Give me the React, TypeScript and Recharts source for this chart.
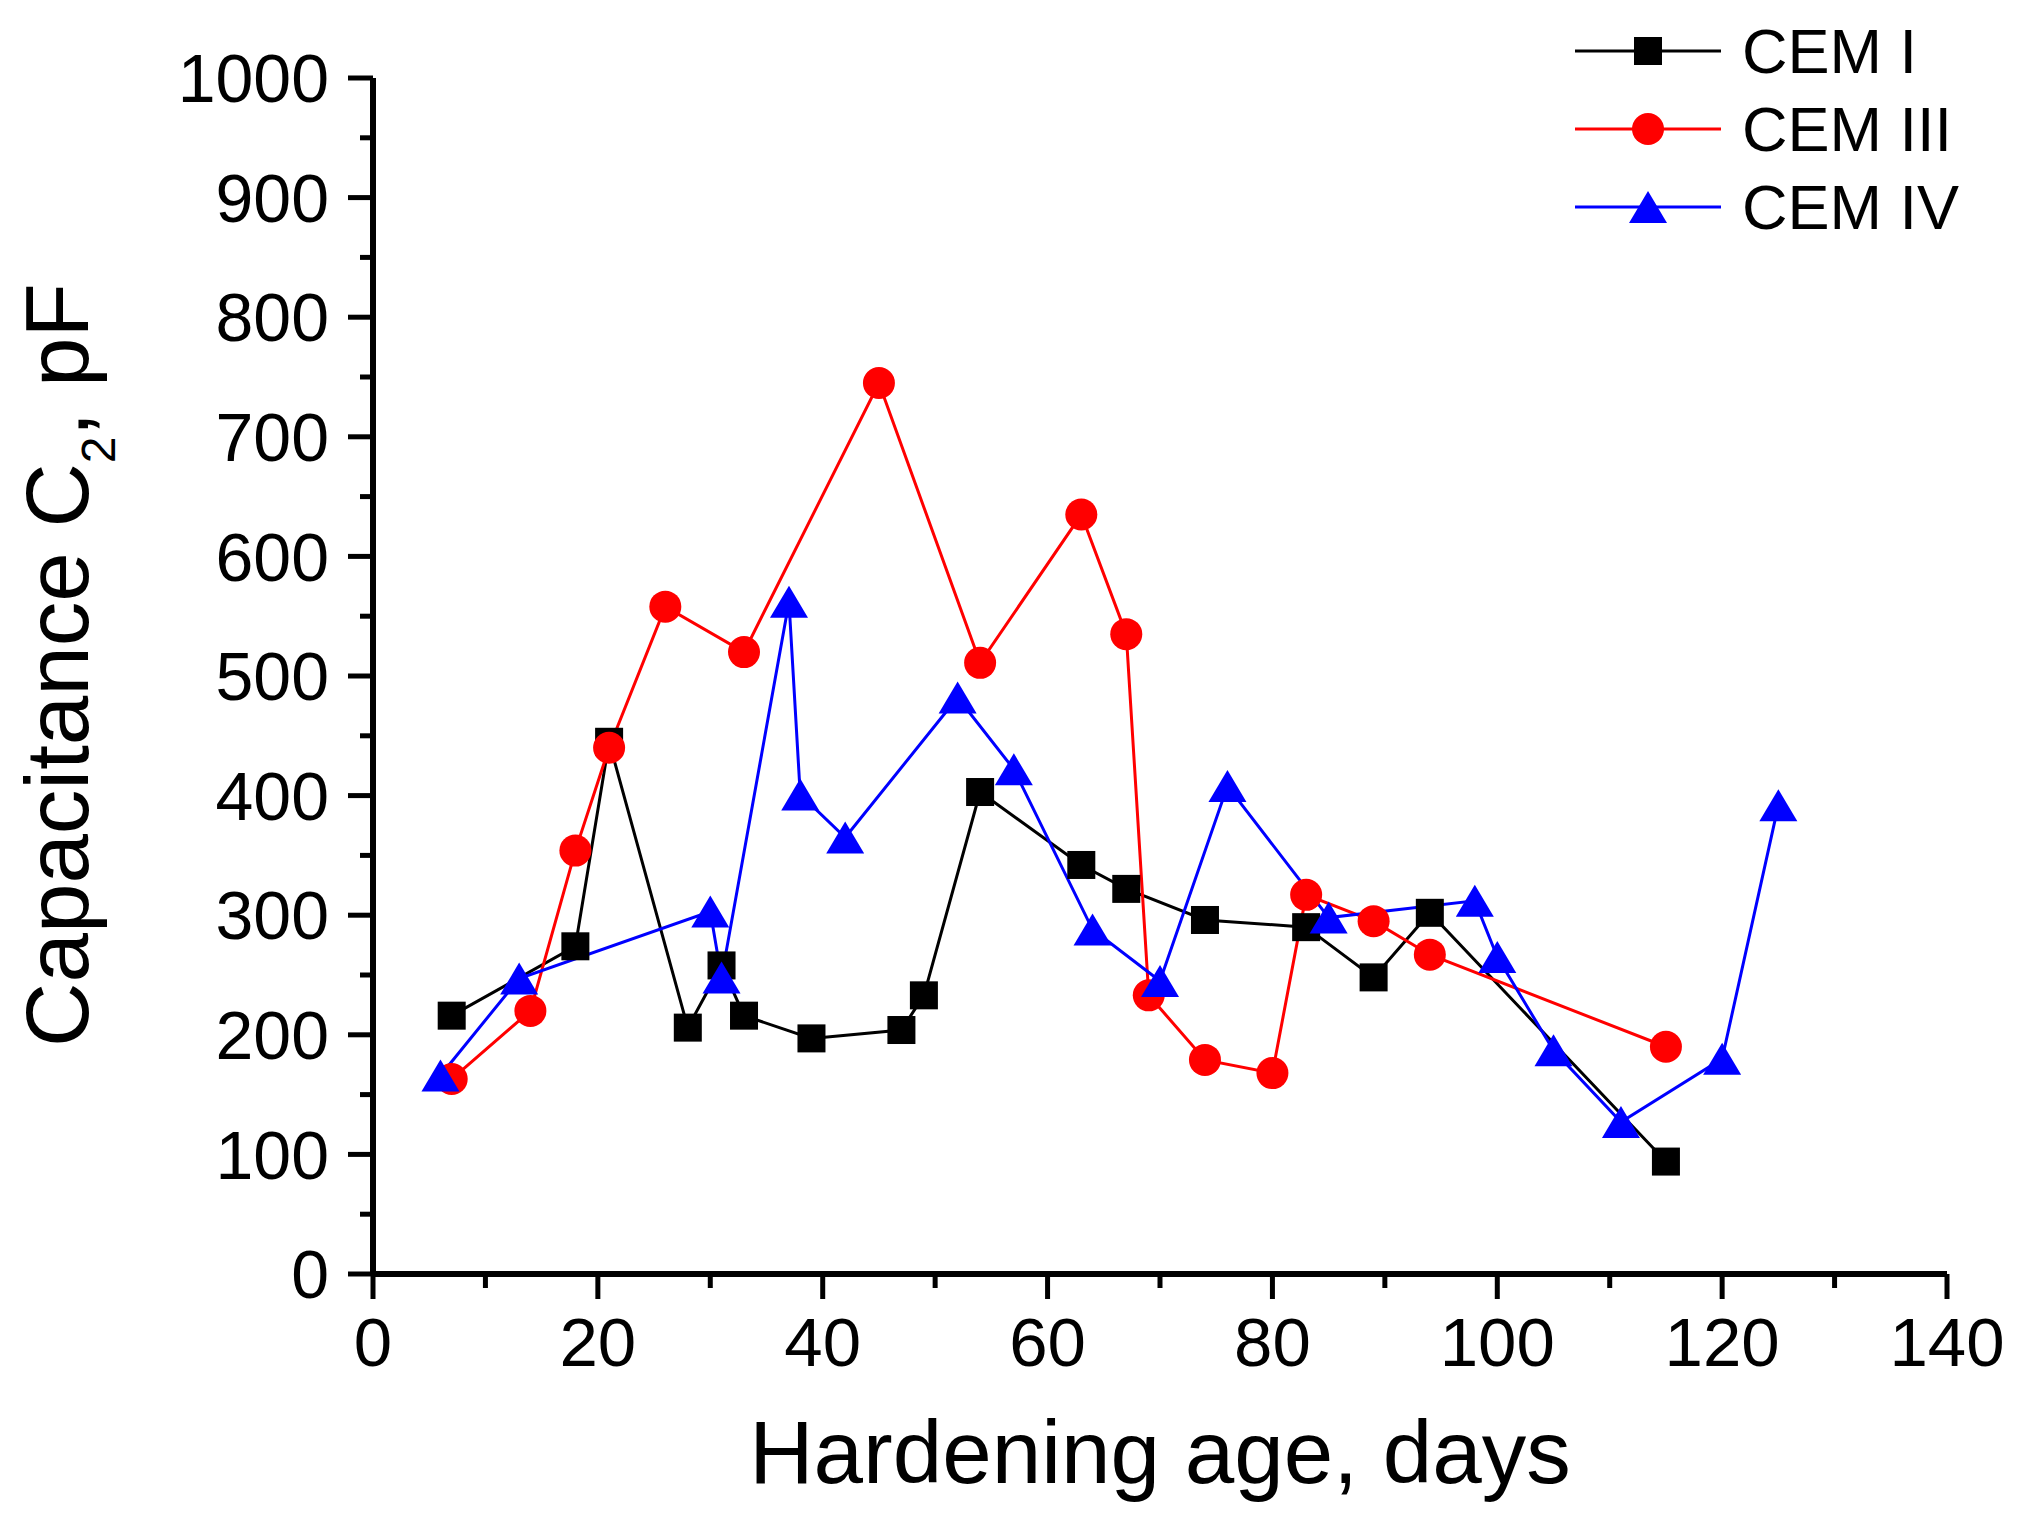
import { LineChart, Line, XAxis, YAxis, Legend, Label } from "recharts"

// hardening age (days) and capacitance C2 (pF) per cement type
const cem1Days = [7, 18, 21, 28, 31, 33, 39, 47, 49, 54, 63, 67, 74, 83, 89, 94, 115]
const cem1Values = [216, 274, 445, 206, 258, 216, 197, 204, 233, 403, 342, 322, 296, 290, 248, 302, 94]

const cem3Days = [7, 14, 18, 21, 26, 33, 45, 54, 63, 67, 69, 74, 80, 83, 89, 94, 115]
const cem3Values = [163, 220, 354, 440, 558, 520, 745, 511, 635, 535, 233, 179, 168, 317, 295, 267, 190]

const cem4Days = [6, 13, 30, 31, 37, 38, 42, 52, 57, 64, 70, 76, 85, 98, 100, 105, 111, 120, 125]
const cem4Values = [166, 247, 303, 248, 562, 401, 365, 482, 422, 288, 245, 408, 298, 312, 265, 187, 127, 180, 392]

const xTicks = [0, 10, 20, 30, 40, 50, 60, 70, 80, 90, 100, 110, 120, 130, 140]
const yTicks = [0, 50, 100, 150, 200, 250, 300, 350, 400, 450, 500, 550, 600, 650, 700, 750, 800, 850, 900, 950, 1000]

const FONT = '"Liberation Sans", Arial, sans-serif'

const toPoints = (days: number[], values: number[]) => days.map((day, i) => ({ day, value: values[i] }))

const cem1 = toPoints(cem1Days, cem1Values)
const cem3 = toPoints(cem3Days, cem3Values)
const cem4 = toPoints(cem4Days, cem4Values)

type Shape = "square" | "circle" | "triangle"

function marker(shape: Shape, cx: number, cy: number, color: string, key?: string) {
  if (shape === "square") return <rect key={key} x={cx - 14} y={cy - 14} width={28} height={28} fill={color} />
  if (shape === "circle") return <circle key={key} cx={cx} cy={cy} r={16} fill={color} />
  return <polygon key={key} points={`${cx},${cy - 16} ${cx + 19},${cy + 16} ${cx - 19},${cy + 16}`} fill={color} />
}

const series = [
  { name: "CEM I", data: cem1, color: "#000000", shape: "square" as Shape },
  { name: "CEM III", data: cem3, color: "#ff0000", shape: "circle" as Shape },
  { name: "CEM IV", data: cem4, color: "#0000ff", shape: "triangle" as Shape },
]

function XTick({ x, y, payload }: any) {
  const major = payload.value % 20 === 0
  return (
    <g>
      <line x1={x} x2={x} y1={y} y2={y + (major ? 25 : 14)} stroke="#000" strokeWidth={5} />
      {major && (
        <text x={x} y={y + 43} dy="0.71em" textAnchor="middle" fontSize={69} fontFamily={FONT} fill="#000">
          {payload.value}
        </text>
      )}
    </g>
  )
}

function YTick({ x, y, payload }: any) {
  const major = payload.value % 100 === 0
  return (
    <g>
      <line x1={x} x2={x - (major ? 25 : 13)} y1={y} y2={y} stroke="#000" strokeWidth={5} />
      {major && (
        <text x={x - 44} y={y} dy="0.355em" textAnchor="end" fontSize={68} fontFamily={FONT} fill="#000">
          {payload.value}
        </text>
      )}
    </g>
  )
}

function LegendBox() {
  return (
    <svg width={440} height={240} style={{ display: "block" }}>
      {series.map((s, i) => {
        const cy = 43 + i * 78
        return (
          <g key={s.name}>
            <line x1={0} x2={146} y1={cy} y2={cy} stroke={s.color} strokeWidth={3} />
            {marker(s.shape, 73, cy, s.color)}
            <text x={167} y={cy} dy="0.355em" fontSize={63} fontFamily={FONT} fill="#000">
              {s.name}
            </text>
          </g>
        )
      })}
    </svg>
  )
}

export default function App() {
  return (
    <div style={{ width: 2010, height: 1516, background: "#fff" }}>
      <LineChart width={2010} height={1516} margin={{ top: 70, right: 71, bottom: 100, left: 215 }}>
        <XAxis
          type="number"
          dataKey="day"
          domain={[0, 140]}
          ticks={xTicks}
          interval={0}
          height={150}
          tickSize={0}
          tickMargin={0}
          tickLine={false}
          axisLine={{ stroke: "#000", strokeWidth: 6 }}
          tick={<XTick />}
        >
          <Label
            content={({ viewBox }: any) => (
              <text
                x={viewBox.x + viewBox.width / 2}
                y={viewBox.y + 209}
                textAnchor="middle"
                fontSize={89}
                fontFamily={FONT}
                fill="#000"
              >
                Hardening age, days
              </text>
            )}
          />
        </XAxis>
        <YAxis
          type="number"
          domain={[0, 1000]}
          ticks={yTicks}
          interval={0}
          width={150}
          tickSize={0}
          tickMargin={0}
          tickLine={false}
          axisLine={{ stroke: "#000", strokeWidth: 6 }}
          tick={<YTick />}
        >
          <Label
            content={({ viewBox }: any) => {
              const cx = 80
              const cy = viewBox.y + viewBox.height / 2 - 11
              return (
                <text
                  x={cx}
                  y={cy}
                  transform={`rotate(-90, ${cx}, ${cy})`}
                  textAnchor="middle"
                  fontSize={89}
                  fontFamily={FONT}
                  fill="#000"
                >
                  Capacitance C
                  <tspan dy={27} fontSize={48}>2</tspan>
                  <tspan dy={-27}>, pF</tspan>
                </text>
              )
            }}
          />
        </YAxis>
        <Legend
          layout="vertical"
          align="center"
          verticalAlign="middle"
          wrapperStyle={{ position: "absolute", top: 0, left: 1567, width: 440, height: 240 }}
          content={() => <LegendBox />}
        />
        {series.map((s) => (
          <Line
            key={s.name}
            data={s.data}
            dataKey="value"
            name={s.name}
            stroke={s.color}
            strokeWidth={3}
            isAnimationActive={false}
            dot={(p: any) => marker(s.shape, p.cx, p.cy, s.color, `${s.name}-${p.index}`)}
            activeDot={false}
          />
        ))}
      </LineChart>
    </div>
  )
}
